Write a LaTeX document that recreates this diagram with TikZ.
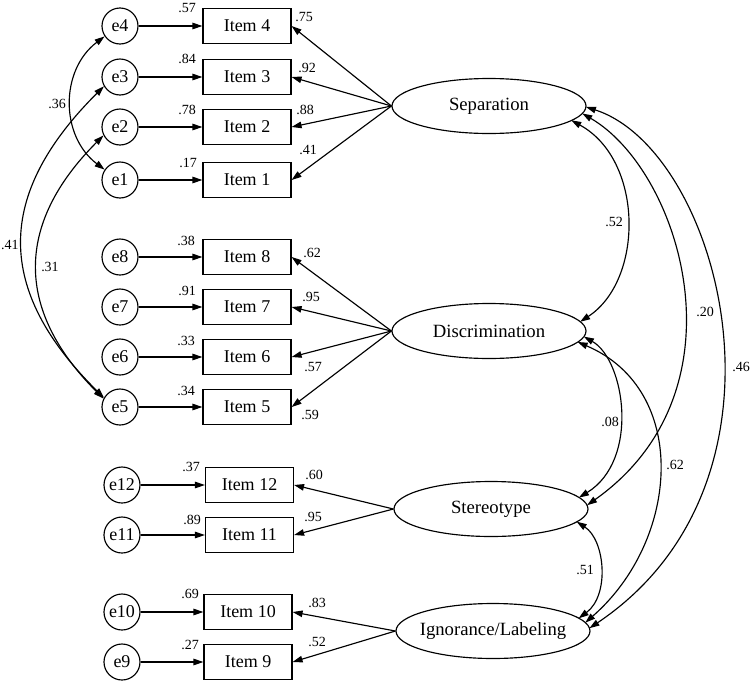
\documentclass[tikz,border=0pt]{standalone}
\usepackage{fontspec}
\setmainfont{Liberation Serif}
\newfontfamily\tmsfont{Liberation Serif}
\usetikzlibrary{arrows.meta,calc,shapes.geometric}
\begin{document}
\begin{tikzpicture}[x=1pt,y=-1pt, line width=1.15pt,
  >={Triangle[length=10pt,width=6.5pt]},
  err/.style={draw, circle, minimum size=36pt, inner sep=0pt, font=\tmsfont\fontsize{18}{20}\selectfont},
  itembox/.style={draw, rectangle, minimum width=88pt, minimum height=35pt, inner sep=0pt, font=\tmsfont\fontsize{18}{20}\selectfont},
  lat/.style={draw, ellipse, minimum width=194pt, minimum height=55pt, inner sep=0pt, font=\tmsfont\fontsize{18.7}{20}\selectfont},
  lbl/.style={inner sep=0pt, font=\tmsfont\fontsize{14}{16}\selectfont},
  reg/.style={->},
  cov/.style={<->}
]
\useasboundingbox (0,0) rectangle (750,683);

% error terms
\node[err] (e4) at (120,26) {e4};
\node[err] (e3) at (120,77) {e3};
\node[err] (e2) at (120,127) {e2};
\node[err] (e1) at (120,180) {e1};
\node[err] (e8) at (120,257) {e8};
\node[err] (e7) at (120,307) {e7};
\node[err] (e6) at (120,357) {e6};
\node[err] (e5) at (120,407) {e5};
\node[err] (e12) at (122,485) {e12};
\node[err] (e11) at (122,535) {e11};
\node[err] (e10) at (122,612) {e10};
\node[err] (e9) at (122,662) {e9};

% items
\node[itembox] (i4) at (247,26) {Item 4};
\node[itembox] (i3) at (247,77) {Item 3};
\node[itembox] (i2) at (247,127) {Item 2};
\node[itembox] (i1) at (247,180) {Item 1};
\node[itembox] (i8) at (247,257) {Item 8};
\node[itembox] (i7) at (247,307) {Item 7};
\node[itembox] (i6) at (247,357) {Item 6};
\node[itembox] (i5) at (247,407) {Item 5};
\node[itembox] (i12) at (249.5,485) {Item 12};
\node[itembox] (i11) at (249.5,535) {Item 11};
\node[itembox] (i10) at (248,612) {Item 10};
\node[itembox] (i9) at (248,662) {Item 9};

% latent factors
\node[lat] (sep) at (489,106) {\makebox[0pt]{Separation}};
\node[lat] (dis) at (489,331) {\makebox[0pt]{Discrimination}};
\node[lat] (ste) at (491,509) {\makebox[0pt]{Stereotype}};
\node[lat] (ign) at (493,631) {\makebox[0pt]{Ignorance/Labeling}};

% error -> item
\foreach \k in {1,...,12}{
  \draw[reg] (e\k) -- (i\k);
}

% loadings
\draw[reg] (sep.west) -- (i4.east);
\draw[reg] (sep.west) -- (i3.east);
\draw[reg] (sep.west) -- (i2.east);
\draw[reg] (sep.west) -- (i1.east);
\draw[reg] (dis.west) -- (i8.east);
\draw[reg] (dis.west) -- (i7.east);
\draw[reg] (dis.west) -- (i6.east);
\draw[reg] (dis.west) -- (i5.east);
\draw[reg] (ste.west) -- (i12.east);
\draw[reg] (ste.west) -- (i11.east);
\draw[reg] (ign.west) -- (i10.east);
\draw[reg] (ign.west) -- (i9.east);

% squared multiple correlations
\node[lbl] (r4) at (187,8) {.57};
\node[lbl] (r3) at (187,59) {.84};
\node[lbl] (r2) at (187,110) {.78};
\node[lbl] (r1) at (188,163) {.17};
\node[lbl] (r8) at (186,241) {.38};
\node[lbl] (r7) at (187,291) {.91};
\node[lbl] (r6) at (186,341) {.33};
\node[lbl] (r5) at (186,391) {.34};
\node[lbl] (r12) at (191,467) {.37};
\node[lbl] (r11) at (192,520) {.89};
\node[lbl] (r10) at (190,594) {.69};
\node[lbl] (r9) at (190,645) {.27};

% loading labels
\node[lbl] (l4) at (304,17) {.75};
\node[lbl] (l3) at (307,68) {.92};
\node[lbl] (l2) at (305,110) {.88};
\node[lbl] (l1) at (308,150) {.41};
\node[lbl] (l8) at (312,253) {.62};
\node[lbl] (l7) at (311,297) {.95};
\node[lbl] (l6) at (313,367) {.57};
\node[lbl] (l5) at (310,415) {.59};
\node[lbl] (l12) at (314,475) {.60};
\node[lbl] (l11) at (313,517) {.95};
\node[lbl] (l10) at (317,603) {.83};
\node[lbl] (l9) at (317,642) {.52};

% error covariances
\draw[cov] (e4.214) .. controls (60,70) and (60,136) .. (e1.146);
\draw[cov] (e3.210) .. controls (-5,195) and (-5,290) .. (e5.150);
\draw[cov] (e2.207) .. controls (15,224) and (15,310) .. (e5.153);
\node[lbl] (c41) at (57,104) {.36};
\node[lbl] (c35) at (10,245) {.41};
\node[lbl] (c25) at (50,267) {.31};

% factor endpoints
\coordinate (sA) at ($(sep)+({97*cos(32)},{27*sin(32)})$);
\coordinate (sB) at ($(sep)+({97*cos(16)},{27*sin(16)})$);
\coordinate (sC) at ($(sep)+({97*cos(2)},{27*sin(2)})$);
\coordinate (dA) at ($(dis)+({97*cos(-20)},{27*sin(-20)})$);
\coordinate (dB) at ($(dis)+({97*cos(12)},{27*sin(12)})$);
\coordinate (dC) at ($(dis)+({97*cos(24)},{27*sin(24)})$);
\coordinate (tA) at ($(ste)+({97*cos(-25)},{27*sin(-25)})$);
\coordinate (tB) at ($(ste)+({97*cos(-8)},{27*sin(-8)})$);
\coordinate (tC) at ($(ste)+({97*cos(28)},{27*sin(28)})$);
\coordinate (gA) at ($(ign)+({97*cos(-28)},{27*sin(-28)})$);
\coordinate (gB) at ($(ign)+({97*cos(-18)},{27*sin(-18)})$);
\coordinate (gC) at ($(ign)+({97*cos(-6)},{27*sin(-6)})$);

% factor covariances
\draw[cov] (sA) .. controls (644,160) and (644,280) .. (dA);
\draw[cov] (sB) .. controls (680,170) and (750,390) .. (tB);
\draw[cov] (sC) .. controls (720,150) and (810,480) .. (gC);
\draw[cov] (dB) .. controls (625,360) and (640,460) .. (tA);
\draw[cov] (dC) .. controls (690,390) and (680,540) .. (gB);
\draw[cov] (tC) .. controls (605,540) and (610,595) .. (gA);

\node[lbl] (f1) at (614,222) {.52};
\node[lbl] (f2) at (705,312) {.20};
\node[lbl] (f3) at (741,367) {.46};
\node[lbl] (f4) at (610,422) {.08};
\node[lbl] (f5) at (675,465) {.62};
\node[lbl] (f6) at (585,570) {.51};
\end{tikzpicture}
\end{document}
